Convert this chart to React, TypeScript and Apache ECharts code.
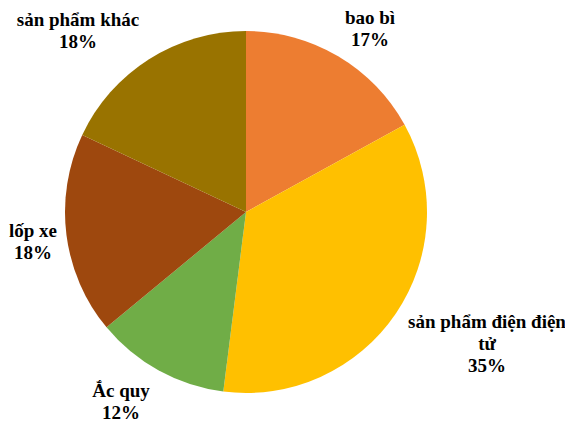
import React, { useEffect, useRef } from "react";
import * as echarts from "echarts";

const categories = ["bao bì", "sản phẩm điện điện tử", "Ắc quy", "lốp xe", "sản phẩm khác"];
const values = [17, 35, 12, 18, 18];
const colors = ["#ED7D31", "#FFC000", "#70AD47", "#9E480E", "#997300"];
const labelTexts = ["bao bì", "sản phẩm điện điện\ntử", "Ắc quy", "lốp xe", "sản phẩm khác"];
const labelPos = [
  [370, 28],
  [487, 343],
  [121, 401],
  [33, 241],
  [78, 30],
];

export default function App() {
  const ref = useRef<HTMLDivElement>(null);
  useEffect(() => {
    if (!ref.current) return;
    const chart = echarts.init(ref.current, null, { renderer: "svg" });
    chart.setOption({
      animation: false,
      backgroundColor: "#ffffff",
      series: [
        {
          type: "pie",
          center: [246, 212],
          radius: [0, 181],
          startAngle: 90,
          clockwise: true,
          avoidLabelOverlap: false,
          data: categories.map((c, i) => ({
            name: c,
            value: values[i],
            itemStyle: { color: colors[i] },
            label: { formatter: labelTexts[i] + "\n{d}%" },
          })),
          label: {
            show: true,
            position: "outside",
            color: "#000",
            fontFamily: "'Liberation Serif', 'Times New Roman', serif",
            fontWeight: "bold",
            fontSize: 19,
            lineHeight: 22,
            align: "center",
            overflow: "none",
            width: 300,
          },
          labelLine: { show: false },
          labelLayout: (params: any) => {
            const p = labelPos[params.dataIndex];
            return { x: p[0], y: p[1], align: "center", verticalAlign: "middle", hideOverlap: false };
          },
          emphasis: { disabled: true },
        },
      ],
    });
    return () => chart.dispose();
  }, []);
  return (
    <div
      ref={ref}
      style={{ position: "fixed", left: 0, top: 0, width: 565, height: 421 }}
    />
  );
}
